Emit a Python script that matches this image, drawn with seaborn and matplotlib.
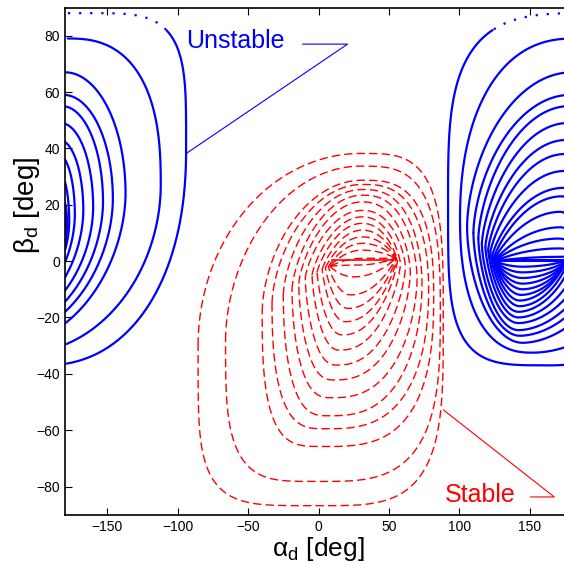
import numpy as np
import pandas as pd
import matplotlib
matplotlib.use("Agg")
import matplotlib.pyplot as plt
import seaborn as sns

# ---- blue (unstable) trajectories (unwrapped alpha, deg) ----
blue_top = [88, 79, 67, 59, 55, 49, 43, 38, 32, 26, 23, 17.5, 12, 8, 4.5, 1.5]
blue_top_x = [195, 182, 180, 179, 178, 177, 176, 175, 175, 174, 173, 172, 172, 171, 171, 170]
blue_bottom = [-37, -32.5, -29, -26.5, -24.5, -22, -20, -18, -16, -14, -12, -10, -8, -6, -4, -2]
blue_bottom_x = [165, 152, 145, 143, 142, 142, 142, 142, 143, 143, 144, 145, 145, 145, 145, 145]
blue_left = [92, 100.5, 105.5, 110, 113.5, 116, 118.5, 120.5, 122, 123.5, 124.5, 125, 125, 125, 125, 125]
blue_left_y = [20, 15, 12, 10, 8, 6, 5, 4, 3, 2, 1, 0.5, 0, 0, 0, 0]
blue_right = [266, 248, 223, 214, 207, 200, 193, 187, 183, 181.5, 181, 180.5, 180.2, 180, 180, 180]
blue_right_y = [40, 27, 24, 22, 21, 19, 18, 16.5, 14, 13, 10, 8, 6, 4, 3, 2]
blue_seg_x = [125.5, 180]
blue_seg_y = [0.5, 0.5]

# ---- red (stable) trajectories ----
red_top = [38.2, 33.7, 28.7, 27.2, 25.4, 23.4, 21, 18, 15.7, 13.4, 11, 8.6, 6.3, 3.9, 1.0]
red_top_x = [30, 30, 31, 31, 31, 31, 31, 31, 31, 31, 31, 31, 31, 31, 31]
red_bottom = [-86.8, -78.2, -65.8, -59.5, -54.9, -48.5, -42.2, -36.9, -31.6, -26.2, -21.5, -16.8, -12, -5.6, -1.4]
red_bottom_x = [0, 0, 3, 5, 7, 9, 11, 13, 15, 17, 19, 21, 23, 25, 28]
red_left = [-85.5, -66, -40, -33, -25, -18.8, -14, -9.4, -4.6, -1, 2.6, 4.9, 7, 8, 8.5]
red_left_y = [-30, -28, -18, -15, -12, -10, -8, -6, -5, -4, -3, -2.5, -2, -1.8, -1.8]
red_right = [88.6, 86.5, 81.8, 78.2, 73.5, 70, 65.2, 61.7, 58.2, 56, 55.5, 55.2, 55, 54.8, 54.6]
red_right_y = [-20, -18, -12, -10, -8, -6, -4, -2, -1, 0, 0.5, 0.8, 1, 1, 1]
red_seg_x = [9.7, 53.9]
red_seg_y = [0.35, 0.35]

# annotation leader lines
unstable_line_x = [-11.3, 20.6, -93.6]
unstable_line_y = [77, 77, 38.3]
stable_line_x = [150.4, 167.4, 88.7]
stable_line_y = [-83.7, -83.7, -52.8]


def quadrant(xs, ys, xe, ye, a, c, num=120):
    # side point (xs, ys) -> extreme point (xe, ye)
    th = np.linspace(0, np.pi / 2, num)
    x = xe + (xs - xe) * np.cos(th) ** a
    y = ys + (ye - ys) * np.sin(th) ** c
    return x, y


def exps(n, f, pinch):
    base = 2.0 / n
    if not pinch:
        return base, base
    return (1 - f) * base + f * 1.0, (1 - f) * base + f * 2.0


def loop(l, yl, xt, t, r, yr, xb, b, shape, f, pinch):
    # shape: corner roundness for TL, TR, BR, BL quadrants
    tl = exps(shape[0], f, pinch[0])
    tr = exps(shape[1], f, pinch[1])
    br = exps(shape[2], f, pinch[1])
    bl = exps(shape[3], f, pinch[0])
    x1, y1 = quadrant(l, yl, xt, t, *tl)
    x2, y2 = quadrant(r, yr, xt, t, *tr)
    x3, y3 = quadrant(r, yr, xb, b, *br)
    x4, y4 = quadrant(l, yl, xb, b, *bl)
    x = np.concatenate([x1, x2[::-1], x3, x4[::-1]])
    y = np.concatenate([y1, y2[::-1], y3, y4[::-1]])
    return x, y


def split(x, y, flag):
    xw = (x + 180) % 360 - 180
    cut = np.where((np.abs(np.diff(xw)) > 180) | (np.diff(flag.astype(int)) != 0))[0] + 1
    out = []
    for xs, ys, fs in zip(np.split(xw, cut), np.split(y, cut), np.split(flag, cut)):
        if len(xs) > 1:
            out.append((xs, ys, bool(fs[0])))
    return out


def frame(tops, tx, bots, bx, lefts, ly, rights, ry, outer, inner, pinch,
          speed=1.0, dotted_above=None):
    rows = []
    seg = 0
    n = len(tops)
    for i in range(n):
        f = i / (n - 1)
        w = min(1.0, f * speed)
        shape = [(1 - w) * o + w * q for o, q in zip(outer, inner)]
        x, y = loop(lefts[i], ly[i], tx[i], tops[i], rights[i], ry[i], bx[i], bots[i],
                    shape, f, pinch)
        if dotted_above is not None and i == 0:
            flag = y > dotted_above
        else:
            flag = np.zeros(len(y), bool)
        for xs, ys, fs in split(x, y, flag):
            rows.append(pd.DataFrame({"x": xs, "y": ys, "seg": seg, "dotted": fs}))
            seg += 1
    return pd.concat(rows, ignore_index=True)


blue_df = frame(blue_top, blue_top_x, blue_bottom, blue_bottom_x, blue_left, blue_left_y,
                blue_right, blue_right_y, outer=(3.5, 4, 2.2, 4), inner=(2, 2, 1.85, 2),
                pinch=(True, False), speed=11, dotted_above=82)
red_df = frame(red_top, red_top_x, red_bottom, red_bottom_x, red_left, red_left_y,
               red_right, red_right_y, outer=(2, 3.5, 3.7, 4.5), inner=(2, 2, 2, 2),
               pinch=(True, True))

sns.set_style("ticks", {"text.color": "black", "axes.labelcolor": "black",
                        "axes.edgecolor": "black", "xtick.color": "black",
                        "ytick.color": "black"})
plt.rcParams["font.family"] = ["Liberation Sans", "DejaVu Sans"]
plt.rcParams["mathtext.fontset"] = "custom"
plt.rcParams["mathtext.rm"] = "Liberation Sans"
plt.rcParams["mathtext.it"] = "Liberation Sans"

fig = plt.figure(figsize=(5.64, 5.63), dpi=100)
ax = fig.add_axes([65 / 564, 48.3 / 563, 507 / 564, 507.2 / 563])

blue = "#0000ff"
red = "#ff0000"

sns.lineplot(data=blue_df[~blue_df["dotted"]], x="x", y="y", units="seg", estimator=None,
             sort=False, color=blue, lw=1.6, legend=False, ax=ax)
sns.lineplot(data=blue_df[blue_df["dotted"]], x="x", y="y", units="seg", estimator=None,
             sort=False, color=blue, lw=1.6, linestyle=(0, (1, 4)), legend=False, ax=ax)
ax.plot(blue_seg_x, blue_seg_y, color=blue, lw=2.2)

sns.lineplot(data=red_df, x="x", y="y", units="seg", estimator=None, sort=False,
             color=red, lw=1.0, linestyle=(0, (6, 3)), legend=False, ax=ax)
ax.plot(red_seg_x, red_seg_y, color=red, lw=1.2)

ax.plot(unstable_line_x, unstable_line_y, color=blue, lw=0.8)
ax.plot(stable_line_x, stable_line_y, color=red, lw=0.8)
ax.text(-94.3, 75.5, "Unstable", color=blue, fontsize=18, va="baseline")
ax.text(89.4, -85.5, "Stable", color=red, fontsize=18, va="baseline")

ax.set_xlim(-180, 180)
ax.set_ylim(-90, 90)
ax.set_xticks(np.arange(-150, 151, 50))
ax.set_yticks(np.arange(-80, 81, 20))
ax.tick_params(direction="in", top=True, right=True, length=5, width=0.8, labelsize=10,
               colors="black")
for s in ax.spines.values():
    s.set_linewidth(1.2)
    s.set_color("black")
ax.set_xlabel(r"α$_\mathrm{d}$ [deg]", fontsize=19, labelpad=1, color="black")
ax.set_ylabel(r"β$_\mathrm{d}$ [deg]", fontsize=20, color="black")
ax.yaxis.set_label_coords(-0.045, 0.61)

fig.savefig("out.png", dpi=100)
